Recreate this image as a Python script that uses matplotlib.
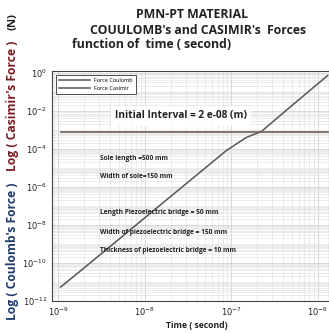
import numpy as np
import matplotlib
matplotlib.use("Agg")
import matplotlib.pyplot as plt
from matplotlib.ticker import LogLocator, NullFormatter

plt.rcParams['font.family'] = ['Open Sans', 'DejaVu Sans']

# values
time_s = [1.07e-9, 2e-9, 5e-9, 1e-8, 2e-8, 5e-8, 8.9e-8, 1.5e-7, 2.24e-7, 5e-7, 1.3e-6]
coulomb_N = [5.4e-12, 5.5e-11, 1.7e-9, 2.3e-8, 3.1e-7, 9.6e-6, 8.3e-5, 3.9e-4, 8.1e-4, 1.8e-2, 0.69]
casimir_N = [7.5e-4] * len(time_s)

x_ticks = [1e-9, 1e-8, 1e-7, 1e-6]
x_labels = ["$10^{-9}$", "$10^{-8}$", "$10^{-7}$", "$10^{-6}$"]
y_ticks = [1e0, 1e-2, 1e-4, 1e-6, 1e-8, 1e-10, 1e-12]
y_labels = ["$10^{0}$", "$10^{-2}$", "$10^{-4}$", "$10^{-6}$", "$10^{-8}$", "$10^{-10}$", "$10^{-12}$"]

notes = [
    ("Sole length =500 mm", 158),
    ("Width of sole=150 mm", 177),
    ("Length Piezoelectric bridge = 50 mm", 213),
    ("Width of piezoelectric bridge = 150 mm", 232),
    ("Thickness of piezoelectric bridge = 10 mm", 251),
]

W, H = 329, 333
fig = plt.figure(figsize=(W / 100, H / 100), dpi=100)
ax = fig.add_axes([52 / W, 1 - 301 / H, (W - 52) / W, (301 - 71) / H])

ax.plot(time_s, coulomb_N, color="#555555", lw=1.1, label="Force Coulomb")
ax.plot(time_s, casimir_N, color="#6e625a", lw=1.2, label="Force Casimir")

ax.set_xscale("log")
ax.set_yscale("log")
ax.set_xlim(8.5e-10, 1.35e-6)
ax.set_ylim(1e-12, 1.2e0)

ax.set_xticks(x_ticks)
ax.set_xticklabels(x_labels)
ax.set_yticks(y_ticks)
ax.set_yticklabels(y_labels)
ax.xaxis.set_minor_locator(LogLocator(base=10, subs=np.arange(1, 10) * 1.0, numticks=20))
ax.yaxis.set_minor_locator(LogLocator(base=10, subs=np.arange(1, 10) * 1.0, numticks=30))
ax.xaxis.set_minor_formatter(NullFormatter())
ax.yaxis.set_minor_formatter(NullFormatter())
ax.tick_params(which="both", length=0, labelsize=6, colors="#222222")
for lab in ax.get_xticklabels() + ax.get_yticklabels():
    lab.set_fontweight("bold")

ax.grid(True, which="major", color="#c8c8c8", lw=0.5)
ax.grid(True, which="minor", color="#dedede", lw=0.4)
for s in ax.spines.values():
    s.set_color("#444444")
    s.set_linewidth(0.8)

leg = ax.legend(loc="upper left", fontsize=4, frameon=True, fancybox=False,
                edgecolor="#222222", handlelength=5.5, borderpad=0.6,
                labelspacing=0.5, bbox_to_anchor=(0.005, 0.995))
leg.get_frame().set_linewidth(0.7)

def fx(px):
    return px / W

def fy(py):
    return 1 - py / H

fig.text(fx(181), fy(116), "Initial Interval = 2 e-08 (m)", fontsize=7.3,
         fontweight="bold", ha="center", va="center", color="#222222",
         bbox=dict(facecolor="white", edgecolor="none", pad=3))
for txt, py in notes:
    fig.text(fx(100), fy(py), txt, fontsize=4.8, fontweight="bold",
             ha="left", va="center", color="#222222")

fig.text(fx(192), fy(15), "PMN-PT MATERIAL", fontsize=8.8, fontweight="bold",
         ha="center", va="center", color="#222222")
fig.text(fx(198), fy(30), "COUULOMB's and CASIMIR's  Forces", fontsize=8.8,
         fontweight="bold", ha="center", va="center", color="#222222")
fig.text(fx(72), fy(45), "function of  time ( second)", fontsize=8.8,
         fontweight="bold", ha="left", va="center", color="#222222")

fig.text(fx(197), fy(325), "Time ( second)", fontsize=6.2, fontweight="bold",
         ha="center", va="center", color="#222222")

fig.text(fx(13), fy(251), "Log ( Coulomb's Force )", fontsize=8.7, fontweight="bold",
         rotation=90, ha="center", va="center", color="#1f3c6e")
fig.text(fx(13), fy(106), "Log ( Casimir's Force )", fontsize=8.7, fontweight="bold",
         rotation=90, ha="center", va="center", color="#7a1f24")
fig.text(fx(13), fy(22), "(N)", fontsize=8.2, fontweight="bold",
         rotation=90, ha="center", va="center", color="#222222")

fig.savefig("out.png", dpi=100, facecolor="white")
